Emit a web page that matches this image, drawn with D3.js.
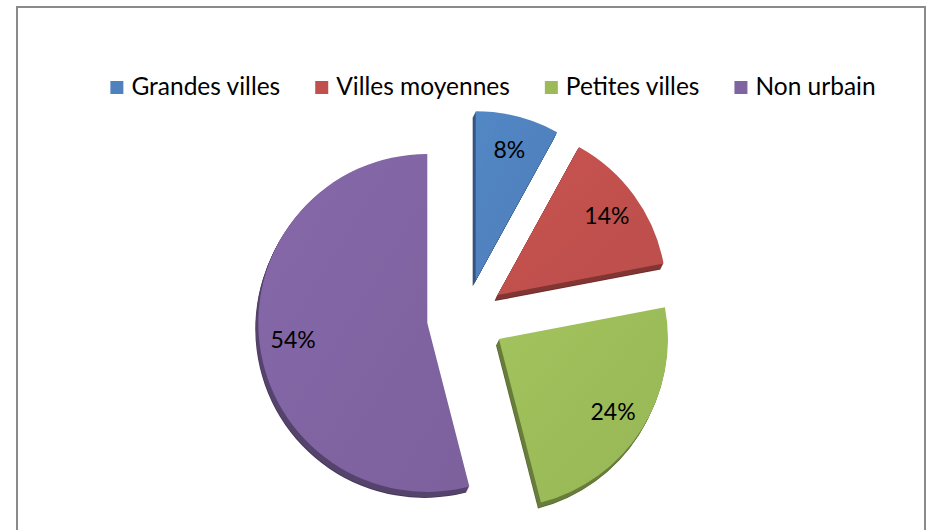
<!DOCTYPE html>
<html>
	<head>
		<meta http-equiv="Content-Type" content="text/html;charset=utf-8"/>
		<title>Répartition</title>
		<script src="https://d3js.org/d3.v7.min.js"></script>
		<style type="text/css">
			body { margin: 0; background: #fff; }
			text { font-family: Lato, "Open Sans", sans-serif; fill: #000; }
		</style>
	</head>
	<body>
		<script type="text/javascript">

			//Chart data
			var categories = ["Grandes villes", "Villes moyennes", "Petites villes", "Non urbain"];
			var values = [8, 14, 24, 54];
			var labels = ["8%", "14%", "24%", "54%"];

			//Office palette
			var palette = ["#4f81bd", "#c0504d", "#9bbb59", "#8064a2"];

			//Sizes
			var w = 932,
				h = 530,
				cx = 466,
				cy = 318,
				r = 169,
				explode = 39,
				depth = 6;

			var svg = d3.select("body").append("svg")
						.attr("width", w)
						.attr("height", h);

			//Frame of the chart area
			svg.append("rect")
				.attr("x", 17)
				.attr("y", 7)
				.attr("width", 908)
				.attr("height", 560)
				.attr("fill", "#fff")
				.attr("stroke", "#8a8a8a")
				.attr("stroke-width", 2);

			var color = d3.scaleOrdinal().domain(categories).range(palette);

			var pie = d3.pie().sort(null).value(function(d) { return d.value; });
			var arcs = pie(categories.map(function(c, i) {
				return { name: c, value: values[i], label: labels[i] };
			}));

			var arc = d3.arc().innerRadius(0).outerRadius(r);
			var labelArc = d3.arc().innerRadius(r * 0.8).outerRadius(r * 0.8);

			//offset of an exploded slice along its mid angle
			function shift(d) {
				var a = (d.startAngle + d.endAngle) / 2;
				return [cx + explode * Math.sin(a), cy - explode * Math.cos(a)];
			}

			//Gradients for the top faces
			var defs = svg.append("defs");
			arcs.forEach(function(d, i) {
				var g = defs.append("linearGradient")
					.attr("id", "grad" + i)
					.attr("x1", "0%").attr("y1", "0%")
					.attr("x2", "100%").attr("y2", "100%");
				var base = d3.color(color(d.data.name));
				g.append("stop").attr("offset", "0%").attr("stop-color", base.brighter(0.12));
				g.append("stop").attr("offset", "100%").attr("stop-color", base.darker(0.08));
			});

			//Side of the 3D slices
			var sides = svg.append("g");
			arcs.forEach(function(d) {
				var p = shift(d);
				for (var k = depth; k >= 1; k--) {
					sides.append("path")
						.attr("d", arc(d))
						.attr("transform", "translate(" + (p[0] - k * 0.5) + "," + (p[1] + k) + ")")
						.attr("fill", d3.color(color(d.data.name)).darker(k === depth ? 1.6 : 1.1));
				}
			});

			//Top faces
			svg.append("g").selectAll("path.slice")
				.data(arcs)
				.enter()
				.append("path")
				.attr("class", "slice")
				.attr("d", arc)
				.attr("transform", function(d) { return "translate(" + shift(d) + ")"; })
				.attr("fill", function(d, i) { return "url(#grad" + i + ")"; });

			//Percent labels
			svg.append("g").selectAll("text.pct")
				.data(arcs)
				.enter()
				.append("text")
				.attr("class", "pct")
				.attr("transform", function(d) {
					var p = shift(d), c = labelArc.centroid(d);
					return "translate(" + (p[0] + c[0]) + "," + (p[1] + c[1]) + ")";
				})
				.attr("text-anchor", "middle")
				.attr("dy", "0.36em")
				.style("font-size", "23px")
				.text(function(d) { return d.data.label; });

			//Legend
			var legend = svg.append("g");
			var items = legend.selectAll("g.item")
				.data(categories)
				.enter()
				.append("g")
				.attr("class", "item");

			items.append("rect")
				.attr("width", 13)
				.attr("height", 13)
				.attr("y", -14)
				.attr("fill", function(d) { return color(d); });

			items.append("text")
				.attr("x", 21)
				.style("font-size", "24.5px")
				.text(function(d) { return d; });

			var gap = 35, xpos = 0;
			items.each(function() {
				var g = d3.select(this);
				g.attr("transform", "translate(" + xpos + ",0)");
				xpos += 21 + g.select("text").node().getComputedTextLength() + gap;
			});
			var total = xpos - gap;
			legend.attr("transform", "translate(" + (493 - total / 2) + ",95)");

		</script>
	</body>
</html>
